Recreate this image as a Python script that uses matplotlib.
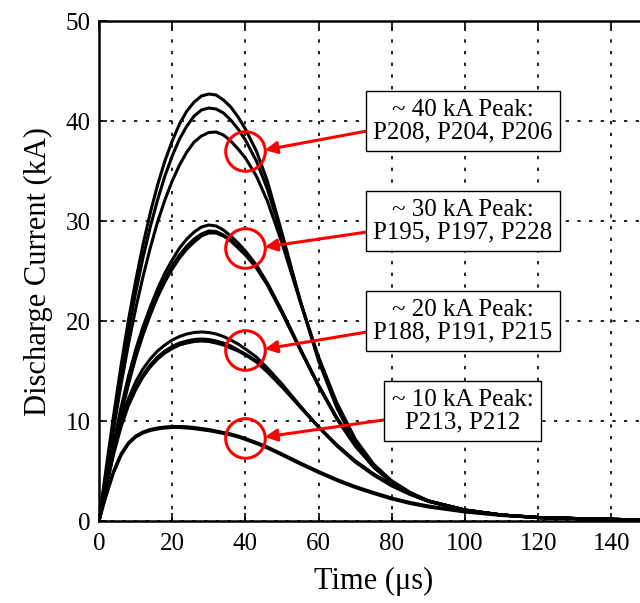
import numpy as np
import matplotlib
matplotlib.use("Agg")
import matplotlib.pyplot as plt

plt.rcParams['font.family'] = ['Liberation Serif', 'DejaVu Serif']

# sample times (us)
t = [0, 1, 2, 4, 6, 8, 10, 12, 14, 16, 18, 20, 22, 24, 26, 28, 30, 32, 34, 36, 38, 40,
     43, 46, 50, 55, 60, 65, 70, 75, 80, 85, 90, 100, 110, 120, 135, 150]

# ~40 kA peak: P208, P204, P206
p208 = [0, 2.7, 5.4, 10.6, 15.5, 20.0, 24.0, 27.6, 30.8, 33.6, 36.0, 38.0, 39.7, 41.0, 41.9, 42.5, 42.7, 42.6, 42.1, 41.4, 40.4, 39.2,
        37.0, 34.0, 28.8, 22.0, 16.0, 11.3, 7.8, 5.4, 3.8, 2.7, 1.95, 1.05, 0.6, 0.35, 0.2, 0.1]
p204 = [0, 2.5, 5.0, 9.9, 14.6, 18.9, 22.8, 26.3, 29.4, 32.1, 34.5, 36.5, 38.2, 39.5, 40.5, 41.1, 41.3, 41.2, 40.8, 40.1, 39.2, 38.1,
        36.0, 33.2, 28.5, 22.0, 16.2, 11.5, 8.0, 5.5, 3.9, 2.8, 2.0, 1.05, 0.6, 0.35, 0.2, 0.1]
p206 = [0, 2.3, 4.6, 9.2, 13.6, 17.6, 21.2, 24.4, 27.3, 29.9, 32.1, 34.0, 35.6, 36.9, 37.9, 38.5, 38.85, 38.9, 38.6, 38.0, 37.2, 36.3,
        34.5, 32.0, 27.8, 21.9, 16.4, 11.8, 8.2, 5.7, 4.0, 2.85, 2.0, 1.05, 0.6, 0.35, 0.2, 0.1]

# ~30 kA peak: P195, P197, P228
p195 = [0, 2.0, 4.0, 7.8, 11.3, 14.4, 17.1, 19.4, 21.4, 23.2, 24.8, 26.1, 27.3, 28.2, 28.9, 29.4, 29.6, 29.5, 29.1, 28.5, 27.8, 27.0,
        25.6, 23.8, 21.0, 17.2, 13.5, 10.2, 7.5, 5.4, 3.9, 2.8, 2.0, 1.1, 0.6, 0.35, 0.2, 0.1]
p197 = [0, 1.9, 3.8, 7.5, 10.9, 13.9, 16.6, 18.9, 20.9, 22.7, 24.2, 25.5, 26.6, 27.5, 28.2, 28.7, 29.0, 28.95, 28.6, 28.1, 27.4, 26.7,
        25.4, 23.7, 20.9, 17.2, 13.6, 10.3, 7.6, 5.5, 3.9, 2.8, 2.0, 1.1, 0.6, 0.35, 0.2, 0.1]
p228 = [0, 1.85, 3.7, 7.3, 10.6, 13.6, 16.3, 18.6, 20.6, 22.4, 23.9, 25.2, 26.3, 27.2, 27.9, 28.5, 28.8, 28.8, 28.5, 28.0, 27.3, 26.6,
        25.3, 23.6, 20.8, 17.1, 13.5, 10.3, 7.6, 5.5, 4.0, 2.85, 2.0, 1.1, 0.6, 0.35, 0.2, 0.1]

# ~20 kA peak: P188, P191, P215
p188 = [0, 1.9, 3.7, 7.2, 10.0, 12.2, 13.9, 15.2, 16.2, 17.0, 17.6, 18.1, 18.45, 18.7, 18.85, 18.9, 18.85, 18.7, 18.45, 18.1, 17.7, 17.2,
        16.4, 15.3, 13.7, 11.5, 9.4, 7.5, 5.9, 4.6, 3.5, 2.65, 2.0, 1.1, 0.6, 0.35, 0.2, 0.1]
p191 = [0, 1.8, 3.5, 6.9, 9.6, 11.7, 13.3, 14.6, 15.6, 16.4, 17.0, 17.45, 17.8, 18.0, 18.15, 18.2, 18.15, 18.0, 17.8, 17.5, 17.1, 16.7,
        16.0, 15.0, 13.5, 11.4, 9.4, 7.6, 6.0, 4.7, 3.6, 2.7, 2.0, 1.1, 0.6, 0.35, 0.2, 0.1]
p215 = [0, 1.7, 3.4, 6.7, 9.4, 11.5, 13.1, 14.4, 15.4, 16.2, 16.8, 17.25, 17.6, 17.8, 17.95, 18.0, 17.95, 17.8, 17.6, 17.3, 17.0, 16.6,
        15.9, 14.9, 13.4, 11.4, 9.4, 7.6, 6.0, 4.7, 3.6, 2.7, 2.0, 1.1, 0.6, 0.35, 0.2, 0.1]

# ~10 kA peak: P213, P212
p213 = [0, 1.4, 2.7, 5.0, 6.7, 7.8, 8.5, 8.9, 9.15, 9.3, 9.4, 9.45, 9.45, 9.42, 9.35, 9.25, 9.15, 9.0, 8.85, 8.7, 8.5, 8.25,
        7.85, 7.4, 6.7, 5.8, 4.95, 4.15, 3.45, 2.85, 2.3, 1.85, 1.5, 0.95, 0.6, 0.35, 0.2, 0.1]
p212 = [0, 1.35, 2.6, 4.85, 6.55, 7.7, 8.4, 8.8, 9.05, 9.2, 9.3, 9.35, 9.35, 9.3, 9.23, 9.13, 9.03, 8.9, 8.75, 8.6, 8.4, 8.15,
        7.75, 7.3, 6.6, 5.7, 4.85, 4.05, 3.35, 2.75, 2.2, 1.75, 1.4, 0.9, 0.55, 0.33, 0.2, 0.1]

curves = [p208, p204, p206, p195, p197, p228, p188, p191, p215, p213, p212]

labels = ["~ 40 kA Peak:\nP208, P204, P206",
          "~ 30 kA Peak:\nP195, P197, P228",
          "~ 20 kA Peak:\nP188, P191, P215",
          "~ 10 kA Peak:\nP213, P212"]
circle_y = [37.0, 27.3, 17.1, 8.3]
box_xy = [(99.4, 40.0), (99.4, 30.0), (99.4, 20.0), (99.4, 11.0)]
arrow_tail = [(73.2, 39.0), (73.2, 28.9), (73.2, 18.9), (77.6, 10.1)]

fig = plt.figure(figsize=(6.4, 6.03), dpi=100)
ax = fig.add_axes([99 / 640, 82 / 603, 549 / 640, 500 / 603])

for c in curves:
    ax.plot(t, c, color='black', lw=2.2, solid_joinstyle='round')

for cy, (tx, ty) in zip(circle_y, arrow_tail):
    ax.plot(40, cy, 'o', ms=28.5, mfc='none', mec='red', mew=2.2)
    ax.annotate('', xy=(45.3, cy + 0.1), xytext=(tx, ty),
                arrowprops=dict(arrowstyle='-|>', color='red', lw=2.2,
                                mutation_scale=18, shrinkA=0, shrinkB=0))

for (bx, by), lab in zip(box_xy, labels):
    ax.text(bx, by, lab, ha='center', va='center', fontsize=18, linespacing=1.05,
            bbox=dict(boxstyle='square,pad=0.3', fc='white', ec='black', lw=1.0))

ax.set_xlim(0, 150)
ax.set_ylim(0, 50)
ax.set_xticks(np.arange(0, 141, 20))
ax.set_yticks(np.arange(0, 51, 10))
ax.grid(True, color='black', linestyle=(0, (2, 5)), lw=1.2)
ax.tick_params(direction='in', length=6, width=1.2, labelsize=18, top=True, right=True, pad=6)
ax.tick_params(axis='x', pad=9)
for s in ax.spines.values():
    s.set_linewidth(1.8)
ax.set_xlabel("Time (μs)", fontsize=22, labelpad=8)
ax.set_ylabel("Discharge Current (kA)", fontsize=22, labelpad=9)

fig.savefig("out.png", dpi=100)
